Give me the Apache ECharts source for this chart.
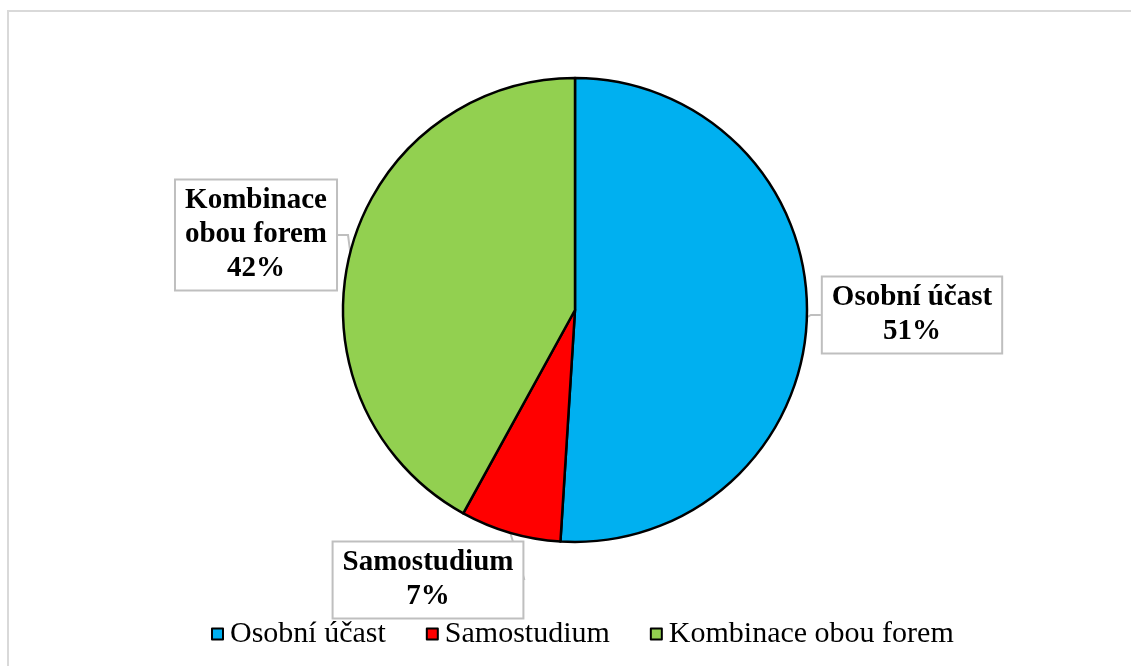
<!DOCTYPE html>
<html>
<head>
    <meta charset="utf-8"/>
    <title>Forma účasti</title>
    <script src="https://cdn.jsdelivr.net/npm/echarts@6/dist/echarts.min.js"></script>
    <style>
        html, body { margin: 0; padding: 0; background: #fff; }
        #chart1 { width: 1131px; height: 666px; }
    </style>
</head>
<body>
<div id="chart1"></div>
<script type="text/javascript">
    // data
    var categories = ['Osobní účast', 'Samostudium', 'Kombinace obou forem'];
    var labelTexts = ['Osobní účast', 'Samostudium', 'Kombinace\nobou forem'];
    var shares = [51, 7, 42];
    var colors = ['#00b0f0', '#ff0000', '#92d050'];

    // where the callout boxes sit (centre of box)
    var labelSpots = [[912, 315], [428, 580], [256, 235]];

    var pieData = categories.map(function (name, i) {
        return {name: name, value: shares[i]};
    });

    var myChart1 = echarts.init(document.getElementById('chart1'));

    myChart1.setOption({
        animation: false,
        color: colors,
        graphic: [{
            // light outer frame of the chart area
            type: 'rect',
            silent: true,
            shape: {x: 8, y: 11, width: 1200, height: 720},
            style: {fill: 'none', stroke: '#d9d9d9', lineWidth: 2}
        }],
        legend: {
            bottom: 12,
            left: 206,
            icon: 'rect',
            itemWidth: 11,
            itemHeight: 11,
            itemGap: 40,
            textStyle: {
                fontFamily: 'Liberation Serif',
                fontSize: 30,
                color: '#000',
                padding: [0, 0, 0, 2]
            },
            itemStyle: {borderColor: '#000', borderWidth: 2},
            data: categories
        },
        series: [{
            name: 'Forma',
            type: 'pie',
            center: [575, 310],
            radius: 232,
            startAngle: 90,
            clockwise: true,
            itemStyle: {borderColor: '#000', borderWidth: 2.5},
            label: {
                show: true,
                position: 'outside',
                formatter: function (p) {
                    return labelTexts[p.dataIndex] + '\n' + p.value + '%';
                },
                fontFamily: 'Liberation Serif',
                fontWeight: 'bold',
                fontSize: 29,
                lineHeight: 34,
                color: '#000',
                align: 'center',
                backgroundColor: '#fff',
                borderColor: '#bfbfbf',
                borderWidth: 2,
                padding: [4, 9, 3, 9]
            },
            labelLine: {
                show: true,
                length: 10,
                length2: 10,
                lineStyle: {color: '#bfbfbf', width: 2}
            },
            labelLayout: function (params) {
                var s = labelSpots[params.dataIndex];
                return {x: s[0], y: s[1], align: 'center', verticalAlign: 'middle'};
            },
            emphasis: {disabled: true},
            data: pieData
        }]
    });
</script>
</body>
</html>
